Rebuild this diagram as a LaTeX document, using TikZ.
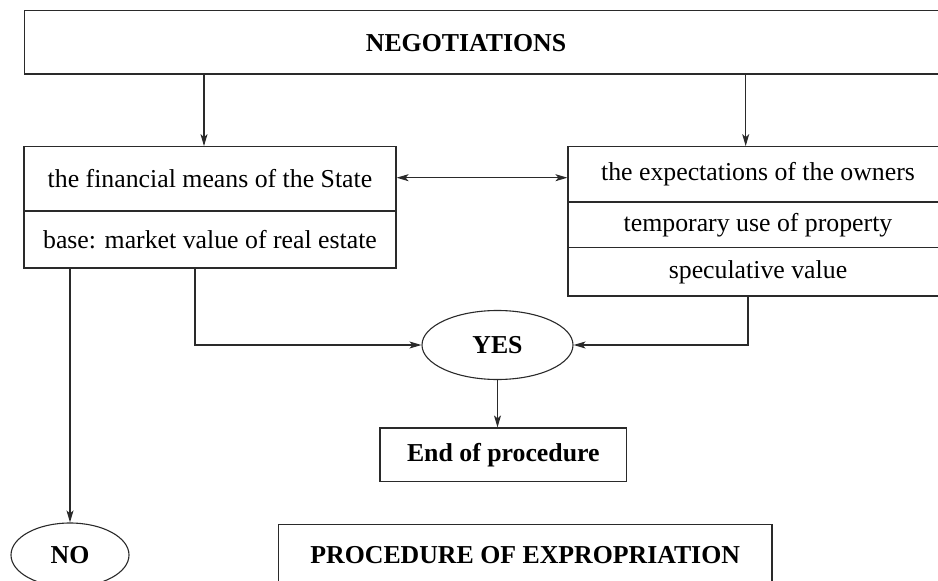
\documentclass[tikz,border=0pt]{standalone}
\usepackage{fontspec}
\setmainfont{Liberation Serif}
\usetikzlibrary{shapes.geometric,arrows.meta,calc}
\definecolor{linec}{HTML}{2A2A2A}
\begin{document}
\begin{tikzpicture}[x=1pt,y=-1pt,
  every node/.style={font=\fontsize{25.8}{30}\selectfont, text=black},
  box/.style={draw=linec, line width=1.2pt, rectangle, inner sep=0pt},
  oval/.style={draw=linec, line width=1.1pt, ellipse, inner sep=0pt},
  tip/.style={Stealth[length=12pt,width=7pt,inset=3pt]},
  conn/.style={draw=linec, line width=1.1pt, -{Stealth[length=12pt,width=7pt,inset=3pt]}},
  dconn/.style={draw=linec, line width=1.1pt, {Stealth[length=12pt,width=7pt,inset=3pt]}-{Stealth[length=12pt,width=7pt,inset=3pt]}}]
\useasboundingbox (0,0) rectangle (938,581);
\clip (0,0) rectangle (938,581);
% top box
\node[box, minimum width=936, minimum height=63.3, anchor=west] (neg) at (24,42.3) {};
\node (negtxt) at (466,43.5) {\bfseries NEGOTIATIONS};
% left cells
\node[box, minimum width=372, minimum height=64.3] (lc1) at (210,178.85) {the financial means of the State};
\node[box, minimum width=372, minimum height=57] (lc2) at (210,239.5) {base: market value of real estate};
% right cells
\node[box, minimum width=380, minimum height=55.3] (rc1) at (758,174.35) {the expectations of the owners};
\node[box, minimum width=380, minimum height=45.7] (rc2) at (758,224.85) {temporary use of property};
\node[box, minimum width=380, minimum height=48.3] (rc3) at (758,271.85) {speculative value};
% decision ovals
\node[oval, minimum width=151, minimum height=69] (yes) at (497.5,345) {\bfseries YES};
\node[oval, minimum width=118, minimum height=64] (no) at (70,555) {\bfseries NO};
% end boxes
\node[box, minimum width=246.7, minimum height=53.7] (end) at (503.3,454.85) {\bfseries End of procedure};
\node[box, minimum width=493.7, minimum height=62] (expr) at (525.2,555.3) {\bfseries PROCEDURE OF EXPROPRIATION};
% connectors
\coordinate (mid) at (480,177.7);
\draw[dconn] (lc1.east |- mid) -- (rc1.west |- mid);
\draw[conn] (neg.south -| 204,0) -- (lc1.north -| 204,0);
\draw[conn] (neg.south -| 745.7,0) -- (rc1.north -| 745.7,0);
\draw[conn] (lc2.south -| 195,0) |- (yes.west);
\draw[conn] (rc3.south -| 748,0) |- (yes.east);
\draw[conn] (yes.south) -- (end.north -| yes.south);
\draw[conn] (lc2.south -| no.north) -- (no.north);
\end{tikzpicture}
\end{document}
